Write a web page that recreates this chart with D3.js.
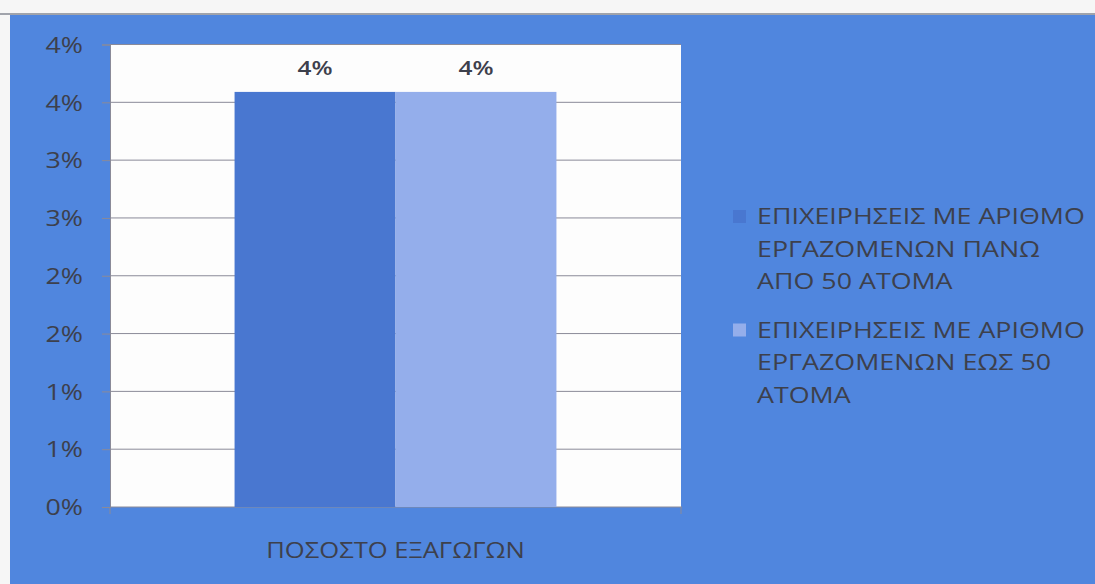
<!DOCTYPE html>
<html>
<head>
<meta charset="utf-8">
<script src="https://cdn.jsdelivr.net/npm/d3@7"></script>
<style>
  html, body { margin: 0; padding: 0; background: #f6f6f6; }
  svg { display: block; }
  text { font-family: "Open Sans", "Noto Sans", sans-serif; fill: #3d404c; }
</style>
</head>
<body>
<svg id="chart" width="1095" height="584"></svg>
<script>
// Export share by company size
const categories = ["ΠΟΣΟΣΤΟ ΕΞΑΓΩΓΩΝ"];
const seriesNames = [
  ["ΕΠΙΧΕΙΡΗΣΕΙΣ ΜΕ ΑΡΙΘΜΟ", "ΕΡΓΑΖΟΜΕΝΩΝ ΠΑΝΩ", "ΑΠΟ 50 ΑΤΟΜΑ"],
  ["ΕΠΙΧΕΙΡΗΣΕΙΣ ΜΕ ΑΡΙΘΜΟ", "ΕΡΓΑΖΟΜΕΝΩΝ ΕΩΣ 50", "ΑΤΟΜΑ"]
];
const over50 = [0.0359];
const upTo50 = [0.0359];
const tickValues = [0, 0.005, 0.01, 0.015, 0.02, 0.025, 0.03, 0.035, 0.04];
const tickLabels = ["0%", "1%", "1%", "2%", "2%", "3%", "3%", "4%", "4%"];

const seriesValues = [over50, upTo50];
const seriesColors = ["#4977d0", "#94aeeb"];
const textColor = "#3d404c";
const gridColor = "#8a8a98";
const stretch = 1.22; // wide lettering

const svg = d3.select("#chart");

// chart background panel
svg.append("rect").attr("x", 0).attr("y", 13).attr("width", 1095).attr("height", 2).attr("fill", "#a0a3ab");
svg.append("rect").attr("x", 10).attr("y", 15).attr("width", 1085).attr("height", 569).attr("fill", "#5086de");

const plot = { left: 110, right: 681, top: 44.5, bottom: 507 };

const y = d3.scaleLinear().domain([0, 0.04]).range([plot.bottom, plot.top]);
const x0 = d3.scaleBand().domain(categories).range([plot.left, plot.right]).paddingInner(0).paddingOuter(0.387);
const x1 = d3.scaleBand().domain(d3.range(seriesValues.length)).range([0, x0.bandwidth()]);

// places a text element at (x, y) with the wide letter shape
function wideText(sel, x, yy) {
  return sel.attr("x", 0).attr("y", 0)
    .attr("transform", `translate(${x},${yy}) scale(${stretch},1)`);
}

// plot area
svg.append("rect")
  .attr("x", plot.left).attr("y", plot.top)
  .attr("width", plot.right - plot.left).attr("height", plot.bottom - plot.top)
  .attr("fill", "#fdfdfd");

// y axis with gridlines
const yAxis = svg.append("g")
  .attr("transform", `translate(${plot.left},0)`)
  .call(d3.axisLeft(y).tickValues(tickValues)
    .tickFormat((d, i) => tickLabels[i])
    .tickSize(8));
yAxis.select(".domain").attr("stroke", gridColor);
yAxis.selectAll(".tick line").attr("stroke", gridColor);
yAxis.selectAll(".tick text")
  .attr("font-size", 22).attr("fill", textColor)
  .each(function () { wideText(d3.select(this), -27, 0).attr("dy", "0.35em"); });

svg.append("g").selectAll("line")
  .data(tickValues.slice(1))
  .join("line")
  .attr("x1", plot.left).attr("x2", plot.right)
  .attr("y1", d => y(d)).attr("y2", d => y(d))
  .attr("stroke", gridColor).attr("stroke-width", 1);

// x axis
const xAxis = svg.append("g")
  .attr("transform", `translate(0,${plot.bottom})`)
  .call(d3.axisBottom(x0).tickSize(0));
xAxis.select(".domain").remove();
xAxis.selectAll(".tick text")
  .attr("font-size", 21).attr("fill", textColor)
  .each(function () { wideText(d3.select(this), 0, 44).attr("dy", "0.35em"); });
svg.append("line")
  .attr("x1", plot.left).attr("x2", plot.right + 1)
  .attr("y1", plot.bottom).attr("y2", plot.bottom)
  .attr("stroke", gridColor);
svg.append("g").selectAll("line")
  .data([plot.left, plot.right])
  .join("line")
  .attr("x1", d => d).attr("x2", d => d)
  .attr("y1", plot.bottom).attr("y2", plot.bottom + 7)
  .attr("stroke", gridColor);

// bars and value labels
const fmt = d3.format(".0%");
categories.forEach((cat, ci) => {
  seriesValues.forEach((vals, si) => {
    const bx = x0(cat) + x1(si);
    svg.append("rect")
      .attr("x", bx).attr("y", y(vals[ci]))
      .attr("width", x1.bandwidth()).attr("height", y(0) - y(vals[ci]))
      .attr("fill", seriesColors[si]);
    svg.append("text")
      .attr("text-anchor", "middle").attr("font-size", 20).attr("font-weight", 600)
      .attr("fill", textColor)
      .call(wideText, bx + x1.bandwidth() / 2, y(vals[ci]) - 17)
      .text(fmt(vals[ci]));
  });
});

// legend
const legend = svg.append("g").attr("transform", "translate(733,0)");
const legendTops = [216.5, 330];
seriesNames.forEach((lines, si) => {
  legend.append("rect")
    .attr("x", 0).attr("y", legendTops[si] - 6.5)
    .attr("width", 13).attr("height", 13)
    .attr("fill", seriesColors[si]);
  lines.forEach((ln, li) => {
    legend.append("text")
      .attr("font-size", 22).attr("dy", "0.35em")
      .attr("fill", textColor)
      .call(wideText, 24, legendTops[si] + li * 32.5)
      .text(ln);
  });
});
</script>
</body>
</html>
